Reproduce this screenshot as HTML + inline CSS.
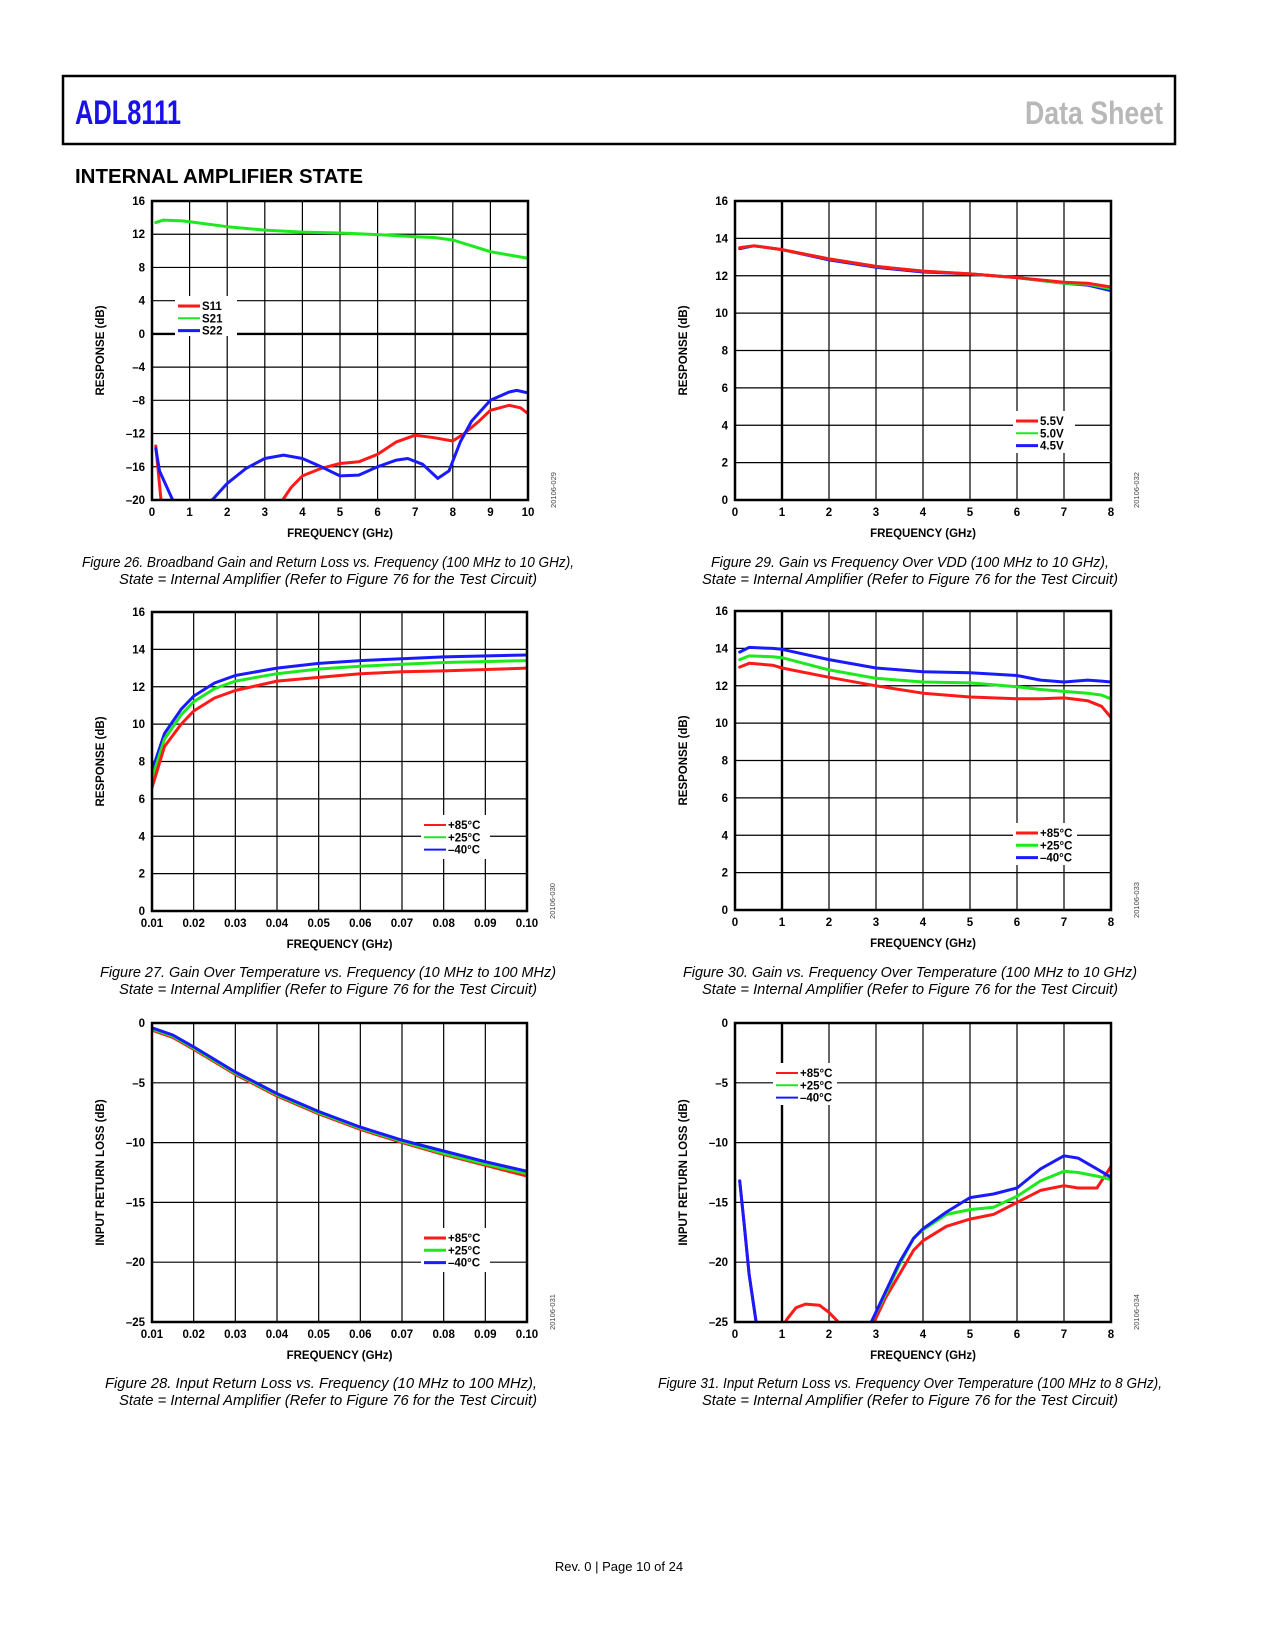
<!DOCTYPE html>
<html><head><meta charset="utf-8">
<style>
html,body{margin:0;padding:0;background:#fff;}
svg{display:block;}
text{font-family:"Liberation Sans",Arial,sans-serif;}
</style></head>
<body>
<svg id="page" width="1275" height="1650" viewBox="0 0 1275 1650" xmlns="http://www.w3.org/2000/svg">
<rect x="63" y="76" width="1112" height="68" fill="none" stroke="#000" stroke-width="2.5"/>
<text x="75" y="124" font-size="34" font-weight="bold" fill="#1a10e8" textLength="106" lengthAdjust="spacingAndGlyphs">ADL8111</text>
<text x="1163" y="124" font-size="32" font-weight="bold" fill="#b8b8b8" text-anchor="end" textLength="138" lengthAdjust="spacingAndGlyphs">Data Sheet</text>
<text x="75" y="183" font-size="20" font-weight="bold" fill="#000" textLength="288" lengthAdjust="spacingAndGlyphs">INTERNAL AMPLIFIER STATE</text>
<text x="619" y="1571" font-size="13" fill="#000" text-anchor="middle">Rev. 0 | Page 10 of 24</text>
<g id="charts"></g>
</svg>
<script>
// ---------- Figure 26 data ----------
const f26_S21_x=[0.1,0.3,0.8,1,2,3,4,5,6,7,7.5,8,8.5,9,9.5,10];
const f26_S21_y=[13.4,13.7,13.6,13.5,12.9,12.5,12.25,12.15,11.95,11.7,11.6,11.3,10.6,9.9,9.5,9.1];
const f26_S11_x=[0.1,0.25,0.3,3.3,3.4,3.7,4,4.5,5,5.5,6,6.5,7,7.5,8,8.3,8.7,9,9.5,9.8,10];
const f26_S11_y=[-13.5,-20.5,null,null,-20.5,-18.5,-17.1,-16.2,-15.6,-15.4,-14.5,-13,-12.2,-12.5,-12.9,-12,-10.5,-9.2,-8.6,-8.9,-9.6];
const f26_S22_x=[0.1,0.2,0.4,0.6,0.7,1.4,1.5,2,2.5,3,3.5,4,4.5,5,5.5,6,6.5,6.8,7.2,7.6,7.9,8.2,8.5,9,9.5,9.7,10];
const f26_S22_y=[-13.8,-16.5,-18.5,-20.5,null,null,-20.5,-18,-16.2,-15,-14.6,-15,-16,-17.1,-17,-16,-15.2,-15,-15.7,-17.4,-16.5,-13,-10.5,-8,-7,-6.8,-7.1];
const f26_xticks=[0,1,2,3,4,5,6,7,8,9,10];
const f26_yticks=[-20,-16,-12,-8,-4,0,4,8,12,16];
const f26_ylabels=["–20","–16","–12","–8","–4","0","4","8","12","16"];
// ---------- Figure 27 data ----------
const f27_x=[0.01,0.013,0.017,0.02,0.025,0.03,0.04,0.05,0.06,0.07,0.08,0.1];
const f27_blue=[7.5,9.5,10.8,11.5,12.2,12.6,13.0,13.25,13.4,13.5,13.6,13.7];
const f27_green=[7.1,9.2,10.5,11.2,11.9,12.3,12.7,12.95,13.1,13.2,13.3,13.4];
const f27_red=[6.6,8.8,10.0,10.7,11.4,11.8,12.3,12.5,12.7,12.8,12.85,13.0];
const f27_xticks=[0.01,0.02,0.03,0.04,0.05,0.06,0.07,0.08,0.09,0.10];
const f27_xlabels=["0.01","0.02","0.03","0.04","0.05","0.06","0.07","0.08","0.09","0.10"];
const f27_yticks=[0,2,4,6,8,10,12,14,16];
// ---------- Figure 28 data ----------
const f28_x=[0.01,0.015,0.02,0.03,0.04,0.05,0.06,0.07,0.08,0.09,0.1];
const f28_red=[-0.6,-1.2,-2.2,-4.3,-6.1,-7.6,-8.9,-10.0,-11.0,-11.9,-12.8];
const f28_green=[-0.5,-1.1,-2.1,-4.2,-6.0,-7.5,-8.8,-9.9,-10.9,-11.8,-12.6];
const f28_blue=[-0.4,-1.0,-2.0,-4.1,-5.9,-7.4,-8.7,-9.8,-10.7,-11.6,-12.4];
const f28_yticks=[-25,-20,-15,-10,-5,0];
const f28_ylabels=["–25","–20","–15","–10","–5","0"];
// ---------- Figure 29 data ----------
const f29_x=[0.1,0.4,1,2,3,4,5,6,7,7.5,8];
const f29_red=[13.5,13.6,13.4,12.9,12.5,12.25,12.1,11.9,11.65,11.6,11.4];
const f29_green=[13.5,13.6,13.4,12.9,12.5,12.25,12.1,11.9,11.6,11.55,11.3];
const f29_blue=[13.45,13.6,13.4,12.85,12.45,12.2,12.1,11.9,11.6,11.5,11.2];
const f29_xticks=[0,1,2,3,4,5,6,7,8];
const f29_yticks=[0,2,4,6,8,10,12,14,16];
// ---------- Figure 30 data ----------
const f30_x=[0.1,0.3,0.8,1,2,3,4,5,6,6.5,7,7.5,7.8,8];
const f30_blue=[13.8,14.05,14.0,13.95,13.4,12.95,12.75,12.7,12.55,12.3,12.2,12.3,12.25,12.2];
const f30_green=[13.4,13.6,13.55,13.5,12.85,12.4,12.2,12.15,11.95,11.8,11.7,11.6,11.5,11.3];
const f30_red=[13.0,13.2,13.1,12.95,12.45,12.0,11.6,11.4,11.3,11.3,11.35,11.2,10.9,10.3];
// ---------- Figure 31 data ----------
const f31_x_low=[0.1,0.2,0.3,0.45,0.5];
const f31_low=[-13.2,-17,-21,-25,-26];
const f31_bump_x=[1,1.1,1.3,1.5,1.8,2,2.2,2.3];
const f31_bump=[-25.5,-24.8,-23.8,-23.5,-23.6,-24.2,-25,-25.5];
const f31_x=[2.9,3.2,3.5,3.8,4,4.5,5,5.5,6,6.5,7,7.3,7.7,8];
const f31_blue=[-25,-22.5,-20,-18,-17.2,-15.8,-14.6,-14.3,-13.8,-12.2,-11.1,-11.3,-12.2,-12.9];
const f31_green=[-25,-22.7,-20.2,-18,-17.3,-16,-15.6,-15.4,-14.5,-13.2,-12.4,-12.5,-12.8,-13.1];
const f31_red=[-25.5,-23,-21,-19,-18.2,-17,-16.4,-16,-15,-14,-13.6,-13.8,-13.8,-12];

const NS="http://www.w3.org/2000/svg";
const root=document.getElementById('charts');
const RED="#ff1a1a",GRN="#1ee81e",BLU="#1a1aff";
function mk(tag,attrs,parent){const e=document.createElementNS(NS,tag);for(const k in attrs)e.setAttribute(k,attrs[k]);(parent||root).appendChild(e);return e;}

function chart(o){
  const g=mk('g',{});
  
  
  const L=o.L,T=o.T,W=o.W,H=o.H;
  const sx=v=>L+(v-o.x0)/(o.x1-o.x0)*W;
  const sy=v=>T+H-(v-o.y0)/(o.y1-o.y0)*H;
  // grid
  o.xt.forEach((v,i)=>{
    const l=mk('line',{x1:sx(v),x2:sx(v),y1:T,y2:T+H,stroke:'#000','stroke-width':(o.thickX===v)?2.4:1.2},g);
    
    
    const t=mk('text',{x:sx(v),y:T+H+16,'font-size':11.5,'font-weight':'bold','text-anchor':'middle'},g);
    t.textContent=o.xl?o.xl[i]:String(v);
    
    
  });
  o.yt.forEach((v,i)=>{
    const l=mk('line',{x1:L,x2:L+W,y1:sy(v),y2:sy(v),stroke:'#000','stroke-width':(o.thickY===v)?2.4:1.2},g);
    
    
    const t=mk('text',{x:L-7,y:sy(v)+4,'font-size':11.5,'font-weight':'bold','text-anchor':'end'},g);
    t.textContent=o.yl?o.yl[i]:String(v);
    
    
  });
  const cid='clip-'+o.name;
  const cp=mk('clipPath',{id:cid},g);mk('rect',{x:L,y:T,width:W,height:H},cp);
  const sg=mk('g',{'clip-path':'url(#'+cid+')'},g);
  o.series.forEach(s=>{
    let d='',pen=false;
    s.x.forEach((xv,i)=>{const yv=s.y[i];if(yv===null){pen=false;return;}d+=(pen?'L':'M')+sx(xv).toFixed(1)+','+sy(yv).toFixed(1);pen=true;});
    const p=mk('path',{d:d,fill:'none',stroke:s.c,'stroke-width':s.w||3,'stroke-linejoin':'round','stroke-linecap':'round'},sg);
    
    
  });
  const b=mk('rect',{x:L,y:T,width:W,height:H,fill:'none',stroke:'#000','stroke-width':2.5},g);
  
  
  // legend
  const lg=mk('g',{},g);
  
  
  mk('rect',{x:o.lg[0],y:o.lg[1],width:o.lg[2],height:o.lg[3],fill:'#fff'},lg);
  o.leg.forEach((e,i)=>{
    const y=o.lg[1]+10+i*12.3;
    mk('line',{x1:o.lg[0]+3,x2:o.lg[0]+25,y1:y,y2:y,stroke:e[1],'stroke-width':e[2]||3},lg);
    const t=mk('text',{x:o.lg[0]+27,y:y+4,'font-size':11.5,'font-weight':'bold'},lg);
    t.textContent=e[0];
    
    
  });
  const xt=mk('text',{x:L+W/2,y:T+H+37,'font-size':11.5,'font-weight':'bold','text-anchor':'middle'},g);
  xt.textContent='FREQUENCY (GHz)';
  
  
  const yx=L-48,yy=T+H/2;
  const yt=mk('text',{x:yx,y:yy,'font-size':11.5,'font-weight':'bold','text-anchor':'middle',transform:'rotate(-90 '+yx+' '+yy+')'},g);
  yt.textContent=o.ytitle;
  
  
  const cx=L+W+28,cy=T+H-10;
  const code=mk('text',{x:cx,y:cy,'font-size':7.5,fill:'#444','text-anchor':'middle',transform:'rotate(-90 '+cx+' '+cy+')'},g);
  code.textContent=o.code;
  
  
  o.cap.forEach((c,i)=>{
    const t=mk('text',{x:c[1]+(c[2])/2,y:o.capY+i*17,'font-size':15,'font-style':'italic','text-anchor':'middle',textLength:c[2],lengthAdjust:'spacingAndGlyphs'},g);
    t.textContent=c[0];
    
    
  });
}
const LEGT=[["+85°C",RED,2],["+25°C",GRN,2],["–40°C",BLU,2]];
const LEGT3=[["+85°C",RED,3],["+25°C",GRN,3],["–40°C",BLU,3]];
const SUB="State = Internal Amplifier (Refer to Figure 76 for the Test Circuit)";
chart({name:'figure-26-chart',L:152,T:201,W:376,H:299,x0:0,x1:10,y0:-20,y1:16,xt:f26_xticks,yt:f26_yticks,yl:f26_ylabels,thickY:0,
  series:[{n:'s21-line',x:f26_S21_x,y:f26_S21_y,c:GRN},{n:'s11-line',x:f26_S11_x,y:f26_S11_y,c:RED},{n:'s22-line',x:f26_S22_x,y:f26_S22_y,c:BLU}],
  lg:[175,296,62,40],leg:[["S11",RED,3],["S21",GRN,2],["S22",BLU,3]],ytitle:'RESPONSE (dB)',code:'20106-029',
  capY:567,cap:[["Figure 26. Broadband Gain and Return Loss vs. Frequency (100 MHz to 10 GHz),",82,492],[SUB,119,418]]});
chart({name:'figure-29-chart',L:735,T:201,W:376,H:299,x0:0,x1:8,y0:0,y1:16,xt:f29_xticks,yt:f29_yticks,thickX:1,
  series:[{n:'4p5v-line',x:f29_x,y:f29_blue,c:BLU},{n:'5p0v-line',x:f29_x,y:f29_green,c:GRN},{n:'5p5v-line',x:f29_x,y:f29_red,c:RED}],
  lg:[1013,411,62,42],leg:[["5.5V",RED,3],["5.0V",GRN,2],["4.5V",BLU,3]],ytitle:'RESPONSE (dB)',code:'20106-032',
  capY:567,cap:[["Figure 29. Gain vs Frequency Over VDD (100 MHz to 10 GHz),",711,398],[SUB,702,416]]});
chart({name:'figure-27-chart',L:152,T:612,W:375,H:299,x0:0.01,x1:0.10,y0:0,y1:16,xt:f27_xticks,xl:f27_xlabels,yt:f27_yticks,
  series:[{n:'minus40c-line',x:f27_x,y:f27_blue,c:BLU},{n:'plus25c-line',x:f27_x,y:f27_green,c:GRN},{n:'plus85c-line',x:f27_x,y:f27_red,c:RED}],
  lg:[421,815,69,44],leg:LEGT,ytitle:'RESPONSE (dB)',code:'20106-030',
  capY:977,cap:[["Figure 27. Gain Over Temperature vs. Frequency (10 MHz to 100 MHz)",100,456],[SUB,119,418]]});
chart({name:'figure-30-chart',L:735,T:611,W:376,H:299,x0:0,x1:8,y0:0,y1:16,xt:f29_xticks,yt:f29_yticks,thickX:1,
  series:[{n:'minus40c-line',x:f30_x,y:f30_blue,c:BLU},{n:'plus25c-line',x:f30_x,y:f30_green,c:GRN},{n:'plus85c-line',x:f30_x,y:f30_red,c:RED}],
  lg:[1013,823,64,42],leg:LEGT3,ytitle:'RESPONSE (dB)',code:'20106-033',
  capY:977,cap:[["Figure 30. Gain vs. Frequency Over Temperature (100 MHz to 10 GHz)",683,454],[SUB,702,416]]});
chart({name:'figure-28-chart',L:152,T:1023,W:375,H:299,x0:0.01,x1:0.10,y0:-25,y1:0,xt:f27_xticks,xl:f27_xlabels,yt:f28_yticks,yl:f28_ylabels,
  series:[{n:'plus85c-line',x:f28_x,y:f28_red,c:RED},{n:'plus25c-line',x:f28_x,y:f28_green,c:GRN},{n:'minus40c-line',x:f28_x,y:f28_blue,c:BLU}],
  lg:[421,1228,69,44],leg:LEGT3,ytitle:'INPUT RETURN LOSS (dB)',code:'20106-031',
  capY:1388,cap:[["Figure 28. Input Return Loss vs. Frequency (10 MHz to 100 MHz),",105,432],[SUB,119,418]]});
chart({name:'figure-31-chart',L:735,T:1023,W:376,H:299,x0:0,x1:8,y0:-25,y1:0,xt:f29_xticks,yt:f28_yticks,yl:f28_ylabels,thickX:1,
  series:[{n:'plus85c-low-line',x:f31_x_low,y:f31_low,c:RED},{n:'minus40c-low-line',x:f31_x_low,y:f31_low,c:BLU},{n:'plus85c-bump-line',x:f31_bump_x,y:f31_bump,c:RED},
    {n:'plus85c-line',x:f31_x,y:f31_red,c:RED},{n:'plus25c-line',x:f31_x,y:f31_green,c:GRN},{n:'minus40c-line',x:f31_x,y:f31_blue,c:BLU}],
  lg:[773,1063,64,42],leg:LEGT,ytitle:'INPUT RETURN LOSS (dB)',code:'20106-034',
  capY:1388,cap:[["Figure 31. Input Return Loss vs. Frequency Over Temperature (100 MHz to 8 GHz),",658,504],[SUB,702,416]]});
</script>
</body></html>
